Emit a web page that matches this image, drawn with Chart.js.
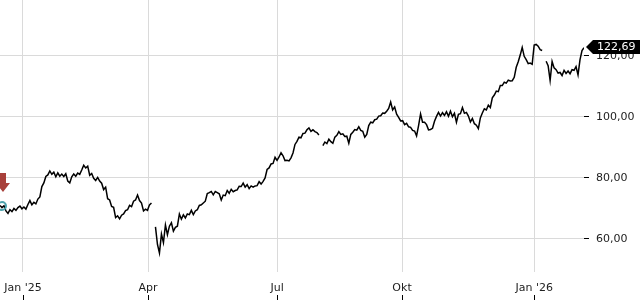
<!DOCTYPE html>
<html>
<head>
<meta charset="utf-8">
<script src="https://cdn.jsdelivr.net/npm/chart.js@4"></script>
<style>
  html, body { margin: 0; padding: 0; background: #fff; }
  #wrap { width: 640px; height: 300px; position: relative; }
</style>
</head>
<body>
<div id="wrap"><canvas id="c" width="640" height="300"></canvas></div>
<script>
// Daily closing prices (trading days, mid-Dec 2024 to early Feb 2026); null = price gap
const prices = [
  71.0, 70.3, 70.9, 69.2, 68.4, 69.6, 69.0, 70.0, 69.4, 70.3,
  70.8, 69.9, 70.5, 69.8, 71.3, 72.6, 71.2, 72.0, 71.5, 73.1,
  73.8, 77.2, 78.4, 80.5, 81.0, 82.3, 81.2, 81.9, 80.4, 81.7,
  80.6, 81.3, 80.5, 81.4, 79.0, 78.4, 80.4, 81.3, 80.6, 81.6,
  81.2, 82.6, 84.2, 83.3, 83.9, 80.9, 81.5, 79.9, 79.2, 80.2,
  79.0, 78.3, 76.2, 77.0, 73.2, 72.8, 70.7, 70.4, 67.0, 67.6,
  66.6, 67.8, 68.2, 69.3, 69.6, 71.0, 70.6, 72.4, 72.8, 74.4,
  72.6, 71.8, 69.2, 69.8, 69.4, 71.2, 71.8, null, 64.0, 58.2,
  55.4, 61.6, 58.8, 64.6, 61.4, 64.2, 65.3, 62.6, 63.8, 64.2,
  68.2, 66.5, 67.9, 66.9, 68.2, 68.0, 69.4, 68.0, 69.2, 69.6,
  71.0, 71.2, 71.8, 72.4, 74.9, 75.2, 75.6, 74.5, 75.6, 75.2,
  74.8, 72.8, 74.4, 74.2, 75.9, 75.0, 76.3, 75.5, 75.9, 76.1,
  77.3, 77.2, 78.3, 77.0, 77.8, 76.5, 77.4, 77.0, 77.4, 77.5,
  78.8, 78.0, 78.9, 80.0, 82.8, 83.3, 84.6, 84.8, 86.8, 85.8,
  86.9, 88.3, 87.3, 85.7, 85.8, 85.6, 86.6, 88.2, 91.0, 92.0,
  93.4, 93.2, 94.6, 94.7, 95.8, 96.4, 95.3, 95.8, 95.2, 94.9,
  94.1, null, 90.6, 91.8, 91.3, 92.7, 91.9, 91.4, 93.4, 94.0,
  95.2, 94.3, 94.5, 93.6, 93.7, 91.4, 94.3, 95.0, 95.9, 95.7,
  96.8, 95.6, 95.3, 93.4, 94.3, 97.2, 98.3, 98.1, 99.1, 99.3,
  100.3, 100.4, 101.3, 101.2, 101.9, 102.8, 104.9, 102.3, 103.3, 100.9,
  99.9, 98.7, 98.8, 97.5, 97.9, 96.8, 96.6, 95.6, 95.4, 93.8,
  97.2, 101.0, 98.3, 98.3, 97.5, 95.8, 95.9, 96.3, 98.6, 100.2,
  101.5, 100.3, 101.4, 100.5, 101.7, 100.2, 101.9, 100.1, 101.2, 98.3,
  100.9, 101.1, 103.1, 101.2, 101.5, 100.3, 98.4, 99.5, 97.8, 97.3,
  96.2, 99.7, 101.3, 102.7, 102.3, 103.9, 103.1, 106.3, 107.2, 108.5,
  108.3, 110.3, 110.3, 111.4, 111.1, 112.1, 111.8, 111.9, 113.0, 116.3,
  118.1, 120.3, 122.8, 119.9, 118.8, 117.5, 117.7, 117.3, 123.6, 123.8,
  123.2, 122.1, 121.8, null, 118.3, 116.8, 112.0, 118.2, 116.1, 115.5,
  114.4, 114.6, 113.6, 115.3, 114.3, 115.1, 114.2, 115.5, 115.3, 116.5,
  113.8, 118.8, 121.8, 122.69
];
// Quarter tick labels and the trading-day index where each falls
const tickLabels = ["Jan '25", "Apr", "Jul", "Okt", "Jan '26"];
const tickIndex = [11.5, 74.3, 139, 201.7, 268];
// Y-axis tick values
const yTicks = [60, 80, 100, 120];
// Signal markers on the first day
const signalIndex = 0;
const signalPrice = 70.8;

const fmt = v => v.toFixed(2).replace('.', ',');
const FONT = "'DejaVu Sans', sans-serif";

const overlay = {
  id: 'overlay',
  afterDraw(chart) {
    const ctx = chart.ctx;
    const xs = chart.scales.x, ys = chart.scales.y;
    ctx.save();
    // x tick marks below labels
    ctx.strokeStyle = '#000';
    ctx.lineWidth = 1;
    tickIndex.forEach(t => {
      const x = Math.round(xs.getPixelForValue(t)) + 0.5;
      ctx.beginPath(); ctx.moveTo(x, 295); ctx.lineTo(x, 300); ctx.stroke();
    });
    // signal circle
    const sx = xs.getPixelForValue(signalIndex) + 2;
    const sy = ys.getPixelForValue(signalPrice);
    ctx.strokeStyle = '#4fa3ad';
    ctx.lineWidth = 2;
    ctx.beginPath(); ctx.arc(sx, sy, 4, 0, Math.PI * 2); ctx.stroke();
    // red down arrow above
    const ax = sx + 1, ay = sy - 14;
    ctx.fillStyle = '#a8403a';
    ctx.beginPath();
    ctx.moveTo(ax - 3, ay - 19);
    ctx.lineTo(ax + 3, ay - 19);
    ctx.lineTo(ax + 3, ay - 9);
    ctx.lineTo(ax + 7, ay - 9);
    ctx.lineTo(ax, ay);
    ctx.lineTo(ax - 7, ay - 9);
    ctx.lineTo(ax - 3, ay - 9);
    ctx.closePath();
    ctx.fill();
    // last price tag
    const last = prices[prices.length - 1];
    const ly = Math.round(ys.getPixelForValue(last)) - 1;
    const lx = chart.chartArea.right + 2;
    ctx.fillStyle = '#000';
    ctx.beginPath();
    ctx.moveTo(lx, ly);
    ctx.lineTo(lx + 7, ly - 7);
    ctx.lineTo(640, ly - 7);
    ctx.lineTo(640, ly + 7);
    ctx.lineTo(lx + 7, ly + 7);
    ctx.closePath();
    ctx.fill();
    ctx.fillStyle = '#fff';
    ctx.font = '11px ' + FONT;
    ctx.textBaseline = 'middle';
    ctx.textAlign = 'left';
    ctx.fillText(fmt(last), lx + 11, ly + 0.5);
    ctx.restore();
  }
};

new Chart(document.getElementById('c'), {
  type: 'line',
  data: {
    datasets: [{
      data: prices.map((p, i) => ({ x: i, y: p })),
      borderColor: '#000',
      borderWidth: 1.5,
      pointRadius: 0,
      tension: 0,
      spanGaps: false,
      fill: false
    }]
  },
  options: {
    responsive: false,
    animation: false,
    layout: { padding: 0 },
    plugins: { legend: { display: false }, tooltip: { enabled: false } },
    scales: {
      x: {
        type: 'linear',
        min: 0,
        max: prices.length - 1,
        afterBuildTicks: s => { s.ticks = tickIndex.map(v => ({ value: v })); },
        afterFit: s => { s.height = 28; s.paddingLeft = 0; s.paddingRight = 0; },
        grid: { color: '#dadada', drawTicks: false },
        border: { display: false },
        ticks: {
          autoSkip: false,
          maxRotation: 0,
          padding: 10,
          color: '#222',
          font: { family: FONT, size: 11 },
          callback: (v, i) => tickLabels[i]
        }
      },
      y: {
        position: 'right',
        min: 49.18,
        max: 138.36,
        afterBuildTicks: s => { s.ticks = yTicks.map(v => ({ value: v })); },
        afterFit: s => { s.width = 56; s.paddingTop = 0; s.paddingBottom = 0; },
        grid: { color: '#dadada', tickColor: '#000', tickLength: 5 },
        border: { display: false },
        ticks: {
          padding: 7,
          color: '#222',
          font: { family: FONT, size: 11 },
          callback: v => fmt(v)
        }
      }
    }
  },
  plugins: [overlay]
});
</script>
</body>
</html>
